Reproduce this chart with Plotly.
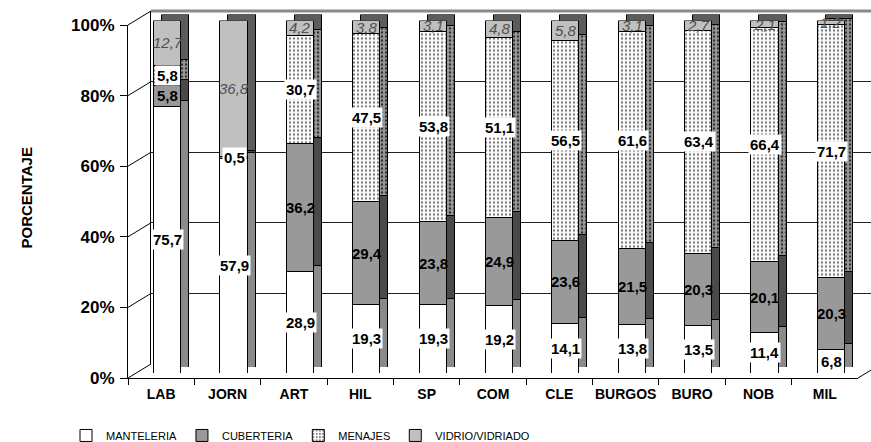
import plotly.graph_objects as go

# ---------------- data ----------------
categories = ["LAB", "JORN", "ART", "HIL", "SP", "COM", "CLE", "BURGOS", "BURO", "NOB", "MIL"]
manteleria = [75.7, 57.9, 28.9, 19.3, 19.3, 19.2, 14.1, 13.8, 13.5, 11.4, 6.8]
cuberteria = [5.8, 0.5, 36.2, 29.4, 23.8, 24.9, 23.6, 21.5, 20.3, 20.1, 20.3]
menajes = [5.8, 0.0, 30.7, 47.5, 53.8, 51.1, 56.5, 61.6, 63.4, 66.4, 71.7]
vidrio = [12.7, 36.8, 4.2, 3.8, 3.1, 4.8, 5.8, 3.1, 2.7, 2.1, 1.2]
series_names = ["MANTELERIA", "CUBERTERIA", "MENAJES", "VIDRIO/VIDRIADO"]
y_tick_vals = [0, 20, 40, 60, 80, 100]
y_tick_labels = ["0%", "20%", "40%", "60%", "80%", "100%"]
y_title = "PORCENTAJE"

series_values = [manteleria, cuberteria, menajes, vidrio]

# ---------------- geometry helpers ----------------
W, H = 871, 442
FONT = "Liberation Sans, Arial, sans-serif"


def fx(p):
    return p / W


def fy(p):
    return 1 - p / H


BAR_W = 0.41
BAR_OFF = -0.205 + 0.098

front_styles = [
    dict(color="#ffffff"),
    dict(color="#999999"),
    dict(color="#ffffff", pattern=dict(shape=".", fgcolor="#7a7a7a", bgcolor="#ffffff", size=4, solidity=0.28)),
    dict(color="#c0c0c0"),
]
side_styles = [
    dict(color="#8a8a8a"),
    dict(color="#4a4a4a"),
    dict(color="#9a9a9a", pattern=dict(shape=".", fgcolor="#303030", bgcolor="#9a9a9a", size=4, solidity=0.3)),
    dict(color="#5c5c5c"),
]

fig = go.Figure()

# back wall subplot (x, y): only gridlines
fig.add_trace(go.Scatter(x=[0], y=[0], mode="markers", marker=dict(size=1, opacity=0),
                         showlegend=False, hoverinfo="skip", xaxis="x", yaxis="y"))

# side faces (x2, y2), shifted right/up to fake depth
for name, vals, st in zip(series_names, series_values, side_styles):
    fig.add_trace(go.Bar(x=categories, y=vals, name=name, width=BAR_W, offset=BAR_OFF,
                         marker=dict(line=dict(color="black", width=1), **st),
                         showlegend=False, hoverinfo="skip", xaxis="x2", yaxis="y2"))

# front faces (x3, y3)
for name, vals, st in zip(series_names, series_values, front_styles):
    fig.add_trace(go.Bar(x=categories, y=vals, name=name, width=BAR_W, offset=BAR_OFF,
                         marker=dict(line=dict(color="black", width=1), **st),
                         xaxis="x3", yaxis="y3"))

# front frame axes (x4, y4)
fig.add_trace(go.Scatter(x=categories, y=[0] * len(categories), mode="markers",
                         marker=dict(size=1, opacity=0), showlegend=False, hoverinfo="skip",
                         xaxis="x4", yaxis="y4"))

# ---------------- data labels ----------------
annotations = []
for i, cat in enumerate(categories):
    total = sum(s[i] for s in series_values)
    cum = 0.0
    for k, s in enumerate(series_values):
        v = s[i]
        pct = v / total * 100
        if v > 0:
            yc = cum + pct / 2
            txt = f"{v:.1f}".replace(".", ",")
            if k == 3:
                annotations.append(dict(x=i + 0.098, y=yc, xref="x3", yref="y3", text=txt,
                                        showarrow=False,
                                        font=dict(family=FONT, size=15, color="#505050", style="italic")))
            else:
                bg = "white" if (k != 1 or v < 2) else "rgba(0,0,0,0)"
                annotations.append(dict(x=i + 0.098, y=yc, xref="x3", yref="y3", text=txt,
                                        showarrow=False, bgcolor=bg, borderpad=1,
                                        font=dict(family=FONT, size=15, color="black", weight="bold")))
        cum += pct

annotations.append(dict(x=fx(16), y=fy(198), xref="paper", yref="paper", text=y_title,
                        textangle=-90, showarrow=False,
                        font=dict(family=FONT, size=15, color="black", weight="bold")))

# ---------------- decorative 3D frame lines ----------------
shapes = []
for k in range(6):
    shapes.append(dict(type="line", xref="paper", yref="paper",
                       x0=fx(128), y0=fy(378 - 70.6 * k), x1=fx(151), y1=fy(364 - 70.6 * k),
                       line=dict(color="black", width=1)))
shapes.append(dict(type="line", xref="paper", yref="paper", x0=fx(858), y0=fy(378), x1=fx(881), y1=fy(364),
                   line=dict(color="black", width=1)))
shapes.append(dict(type="line", xref="paper", yref="paper", x0=fx(151), y0=fy(11), x1=fx(871), y1=fy(11),
                   line=dict(color="#8a8a8a", width=3)))

cat_range = [-0.5, len(categories) - 0.5]
hidden = dict(visible=False, showgrid=False, zeroline=False)

fig.update_layout(
    width=W, height=H,
    template="none",
    paper_bgcolor="white", plot_bgcolor="rgba(0,0,0,0)",
    margin=dict(l=0, r=0, t=0, b=0, autoexpand=False),
    barmode="stack", barnorm="percent", bargap=0,
    font=dict(family=FONT, color="black"),
    showlegend=True,
    legend=dict(orientation="h", x=fx(66), y=-0.018, xanchor="left", yanchor="bottom",
                font=dict(family=FONT, size=11, color="black"), bgcolor="rgba(0,0,0,0)",
                itemwidth=30, traceorder="normal"),
    # back wall
    xaxis=dict(domain=[fx(151), 1], range=[0, 1], visible=False, showgrid=False, zeroline=False),
    yaxis=dict(domain=[fy(364), fy(11)], range=[0, 100], anchor="x", tickvals=y_tick_vals,
               showgrid=True, gridcolor="#202020", gridwidth=1, zeroline=False,
               showline=True, linecolor="black", linewidth=1, showticklabels=False, ticks=""),
    # side faces
    xaxis2=dict(domain=[fx(136), fx(866)], range=cat_range, type="category", anchor="y2", **hidden),
    yaxis2=dict(domain=[fy(367), fy(14.5)], range=[0, 100], anchor="x2", **hidden),
    # front faces
    xaxis3=dict(domain=[fx(128), fx(858)], range=cat_range, type="category", anchor="y3", **hidden),
    yaxis3=dict(domain=[fy(373), fy(20.5)], range=[0, 100], anchor="x3", **hidden),
    # front frame
    xaxis4=dict(domain=[fx(128), fx(858)], range=cat_range, type="category", anchor="y4",
                showgrid=False, zeroline=False, showline=True, linecolor="black", linewidth=1,
                ticks="outside", ticklen=6, tickcolor="black", tickson="boundaries", tickangle=0,
                ticklabelstandoff=3,
                tickfont=dict(family=FONT, size=14, color="black", weight="bold")),
    yaxis4=dict(domain=[fy(378), fy(25)], range=[0, 100], anchor="x4",
                tickvals=y_tick_vals, ticktext=y_tick_labels,
                showgrid=False, zeroline=False, showline=True, linecolor="black", linewidth=1,
                ticks="outside", ticklen=7, tickcolor="black", ticklabelstandoff=2,
                tickfont=dict(family=FONT, size=17, color="black", weight="bold")),
    annotations=annotations,
    shapes=shapes,
)

fig.write_html("out.html", config={"displayModeBar": False},
               post_script="document.body.style.margin='0px';")
